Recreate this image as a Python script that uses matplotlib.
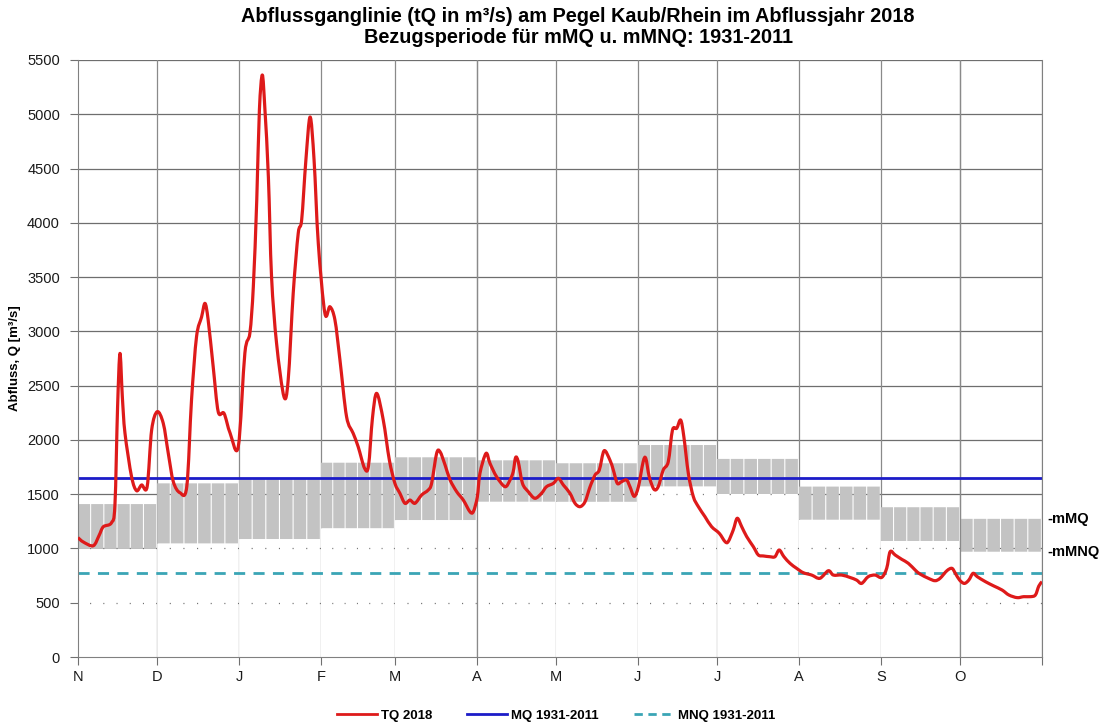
import matplotlib
matplotlib.use("Agg")
import matplotlib.pyplot as plt
from matplotlib.lines import Line2D
from matplotlib.path import Path
from matplotlib.patches import PathPatch

plt.rcParams['font.family'] = ['Liberation Sans', 'DejaVu Sans']

# Monatsanfaenge (Tage seit 1.11.2017) und Beschriftung
month_start = [0, 30, 61, 92, 120, 151, 181, 212, 242, 273, 304, 334, 365]
month_labels = ['N', 'D', 'J', 'F', 'M', 'A', 'M', 'J', 'J', 'A', 'S', 'O']

# mittlere monatliche Werte 1931-2011
mmnq = [1000, 1047, 1087, 1187, 1262, 1431, 1430, 1572, 1502, 1265, 1069, 970]
mmq = [1409, 1600, 1638, 1790, 1840, 1812, 1785, 1953, 1825, 1570, 1380, 1273]
mq = 1650
mnq = 771

# Tagesabfluss 2018
tq_day = [0, 2, 5.8, 8, 9.6, 12.7, 14, 15, 15.9, 16.8, 17.8, 20.3, 22.2, 24.1, 26.2,
          27.9, 30, 32.3, 34.2, 36.1, 38.6, 41.2, 43, 44.9, 46.8, 48.1, 49.3, 51.2,
          53.1, 55.3, 57.6, 60.7, 63.2, 65.1, 66.4, 67.7, 68.7, 69.8, 70.8, 72.1,
          73.3, 75.2, 78, 79.6, 81.5, 83.4, 84.7, 86.3, 87.9, 89.4, 91, 93.5, 95.4,
          97.3, 99.2, 101.7, 104.2, 106.1, 108.5, 110, 111.5, 113.1, 115.6, 117.9,
          120, 121.9, 123.8, 125.7, 127.6, 130.1, 132.6, 133.9, 135.8, 137.1, 139,
          140.9, 143.4, 145.9, 148.4, 149.7, 151.2, 152.2, 154.5, 156, 158.5, 161.7,
          163.6, 164.8, 165.7, 166.7, 168.3, 170.5, 173, 175.5, 177.4, 180, 181.9,
          183.8, 186.3, 188.2, 190.1, 192, 193.9, 195.8, 197.4, 199.2, 201.4, 202.7,
          204.2, 205.8, 207.7, 209, 210.6, 212.2, 214, 215, 216.3, 218.1, 219.7,
          221.6, 223.5, 225.1, 226.7, 228.2, 229.4, 231.1, 233, 234.9, 237.4, 239.9,
          242.8, 245, 246.2, 248.1, 249.6, 251.3, 253.2, 255.7, 257.6, 259.5, 262,
          263.9, 265.5, 267.3, 269.6, 272.1, 274.6, 277.8, 280.9, 284.1, 286, 289.2,
          292.3, 294.8, 296.7, 299.2, 301.8, 304.3, 306.2, 307.5, 309.4, 311.9,
          314.4, 317, 318.8, 322, 324.5, 326.4, 329, 330.9, 332.2, 333.8, 335.6,
          337.3, 338.9, 340.5, 343.6, 346.8, 349.9, 352.5, 355.6, 358.1, 360.7,
          362.5, 363.8, 365]
tq_val = [1100, 1060, 1025, 1120, 1200, 1237, 1400, 2300, 2797, 2400, 2063, 1661,
          1532, 1585, 1569, 2091, 2260, 2153, 1876, 1615, 1514, 1569, 2368, 2951,
          3132, 3258, 3105, 2675, 2260, 2245, 2063, 1937, 2800, 2985, 3412, 4211,
          5040, 5362, 5040, 4422, 3503, 2890, 2398, 2552, 3351, 3903, 4026, 4578,
          4975, 4578, 3810, 3166, 3227, 3105, 2736, 2214, 2061, 1937, 1740, 1760,
          2200, 2429, 2183, 1815, 1600, 1508, 1416, 1446, 1416, 1492, 1538, 1600,
          1876, 1891, 1769, 1631, 1523, 1446, 1339, 1339, 1474, 1692, 1876, 1784,
          1661, 1569, 1631, 1707, 1838, 1799, 1600, 1523, 1462, 1508, 1569, 1600,
          1646, 1584, 1508, 1416, 1385, 1431, 1569, 1677, 1723, 1900, 1815, 1723,
          1600, 1615, 1631, 1569, 1480, 1569, 1799, 1830, 1661, 1545, 1569, 1723,
          1799, 2091, 2107, 2183, 2030, 1692, 1477, 1385, 1293, 1201, 1140, 1063,
          1063, 1170, 1278, 1201, 1109, 1017, 940, 931, 924, 924, 986, 924, 863,
          817, 777, 755, 725, 795, 755, 755, 733, 709, 678, 740, 755, 733, 817,
          970, 940, 900, 863, 801, 765, 725, 703, 725, 795, 817, 771, 709, 678,
          709, 771, 740, 694, 654, 617, 571, 547, 556, 556, 571, 654, 694]


def smooth_path(xs, ys, k=0.16):
    # Excel-artige geglaettete Linie als Bezier-Pfad durch die Messpunkte
    verts = [(xs[0], ys[0])]
    codes = [Path.MOVETO]
    n = len(xs)
    for i in range(n - 1):
        x0, y0 = (xs[i - 1], ys[i - 1]) if i > 0 else (xs[i], ys[i])
        x1, y1 = xs[i], ys[i]
        x2, y2 = xs[i + 1], ys[i + 1]
        x3, y3 = (xs[i + 2], ys[i + 2]) if i + 2 < n else (x2, y2)
        c1 = (x1 + (x2 - x0) * k, y1 + (y2 - y0) * k)
        c2 = (x2 - (x3 - x1) * k, y2 - (y3 - y1) * k)
        verts += [c1, c2, (x2, y2)]
        codes += [Path.CURVE4] * 3
    return Path(verts, codes)


fig = plt.figure(figsize=(11.01, 7.28), dpi=100)
ax = fig.add_axes([0.0708, 0.0975, 0.8756, 0.8201])

ax.set_xlim(0, 365)
ax.set_ylim(0, 5500)

# Gitter
for y in range(500, 5501, 500):
    ax.axhline(y, color='#6e6e6e', lw=0.9, zorder=0)
for d in month_start[1:]:
    ax.axvline(d, color='#8a8a8a', lw=0.9, zorder=0)

# Monatsbalken mMNQ..mMQ (je Monat 6 Teilbalken)
n_sub = 6
for i in range(12):
    s, e = month_start[i], month_start[i + 1]
    w = (e - s) / n_sub
    xs = [s + k * w for k in range(n_sub)]
    ax.bar(xs, [mmnq[i]] * n_sub, width=w * 0.92, align='edge',
           color='white', edgecolor='none', zorder=1, snap=False)
    ax.bar(xs, [mmq[i] - mmnq[i]] * n_sub, bottom=mmnq[i], width=w * 0.92,
           align='edge', color='#c3c3c3', edgecolor='none', zorder=1, snap=False)

for d in [month_start[5], month_start[11]]:
    ax.axvline(d, color='#8a8a8a', lw=0.9, zorder=1.5)

ax.axhline(mq, color='#1c1cc8', lw=2.0, zorder=2)
ax.axhline(mnq, color='#3aa5b5', lw=2.0, ls=(0, (4, 3)), zorder=2)
ax.add_patch(PathPatch(smooth_path(tq_day, tq_val), facecolor='none',
                       edgecolor='#de1a1a', lw=2.3, zorder=3, joinstyle='round'))

ax.text(367, mmq[-1], '-mMQ', fontsize=10.5, fontweight='bold', va='center', ha='left')
ax.text(367, mmnq[-1], '-mMNQ', fontsize=10.5, fontweight='bold', va='center', ha='left')

ax.set_xticks(month_start)
ax.set_xticklabels(month_labels + [''])
ax.set_yticks(range(0, 5501, 500))
ax.tick_params(axis='both', direction='out', length=6, color='#707070',
               labelsize=10.5, labelcolor='#1a1a1a')
ax.tick_params(axis='y', pad=7)
ax.tick_params(axis='x', pad=3)
for sp in ax.spines.values():
    sp.set_color('#808080')
ax.spines['top'].set_visible(False)

ax.set_ylabel('Abfluss, Q [m³/s]', fontsize=9.5, fontweight='bold', labelpad=4)

fig.text(0.525, 0.977, 'Abflussganglinie (tQ in m³/s) am Pegel Kaub/Rhein im Abflussjahr 2018',
         ha='center', va='center', fontsize=14.3, fontweight='bold')
fig.text(0.525, 0.949, 'Bezugsperiode für mMQ u. mMNQ: 1931-2011',
         ha='center', va='center', fontsize=14.3, fontweight='bold')

handles = [Line2D([], [], color='#de1a1a', lw=2),
           Line2D([], [], color='#1c1cc8', lw=2),
           Line2D([], [], color='#3aa5b5', lw=2, ls=(0, (3, 2)))]
fig.legend(handles, ['TQ 2018', 'MQ 1931-2011', 'MNQ 1931-2011'],
           loc='center', bbox_to_anchor=(0.505, 0.017), ncol=3, frameon=False,
           prop={'size': 9.5, 'weight': 'bold'}, handlelength=3.0,
           handletextpad=0.3, columnspacing=2.7)

fig.savefig('out.png', dpi=100)
